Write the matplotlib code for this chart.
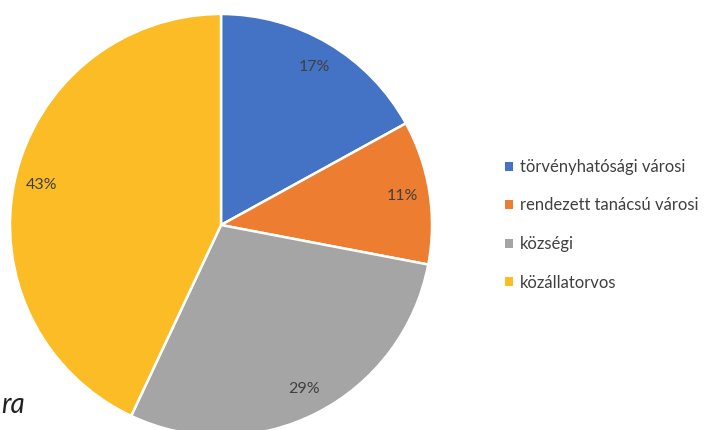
import matplotlib
matplotlib.use("Agg")
import matplotlib.pyplot as plt
from matplotlib.patches import Patch

categories = ["törvényhatósági városi", "rendezett tanácsú városi", "községi", "közállatorvos"]
values = [17, 11, 29, 43]
colors = ["#4472C4", "#ED7D31", "#A5A5A5", "#FCBC25"]

W, H = 712, 430
fig = plt.figure(figsize=(W / 100, H / 100), dpi=100)
plt.rcParams['font.family'] = ['Lato', 'DejaVu Sans']

cx, cy, r = 221, 225, 211
ax = fig.add_axes([(cx - r) / W, (H - cy - r) / H, 2 * r / W, 2 * r / H])
wedges, texts, autotexts = ax.pie(
    values, colors=colors, startangle=90, counterclock=False,
    autopct=lambda p: f"{p:.0f}%", pctdistance=0.87,
    wedgeprops=dict(edgecolor="white", linewidth=1.8),
    textprops=dict(color="#404040", fontsize=11.5),
)
ax.set_aspect("equal")
ax.set_xlim(-1, 1)
ax.set_ylim(-1, 1)
for w in wedges:
    w.set_clip_on(False)

handles = [Patch(facecolor=c, edgecolor="none") for c in colors]
fig.legend(handles, categories, loc="upper left", bbox_to_anchor=(490 / W, 1 - 144 / H),
           frameon=False, fontsize=12, handlelength=0.45, handleheight=0.45,
           handletextpad=0.45, labelspacing=1.35, labelcolor="#404040")

fig.text(1 / W, 1 - 405 / H, "ra", fontsize=20, style="italic", color="#222222",
         va="center", ha="left")

fig.savefig("out.png", dpi=100)
